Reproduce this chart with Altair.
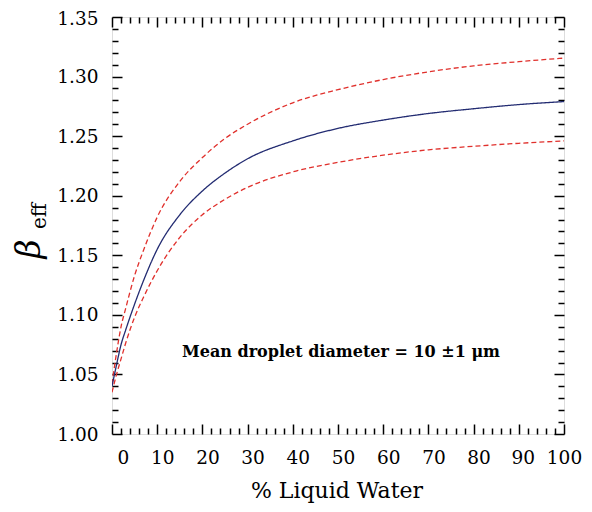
import altair as alt
import pandas as pd

# ---- data ----
x_vals = [0, 1, 2, 3, 5, 7, 10, 15, 20, 25, 30, 40, 50, 60, 70, 80, 90, 100]
center = [1.040, 1.058, 1.075, 1.087, 1.109, 1.129, 1.155, 1.184, 1.204, 1.219,
          1.231, 1.246, 1.2565, 1.2635, 1.269, 1.273, 1.2765, 1.279]
upper = [1.042, 1.068, 1.090, 1.105, 1.133, 1.1545, 1.182, 1.212, 1.232, 1.248,
         1.260, 1.278, 1.289, 1.2975, 1.304, 1.309, 1.3125, 1.3155]
lower = [1.035, 1.050, 1.063, 1.076, 1.098, 1.115, 1.137, 1.165, 1.184, 1.197,
         1.207, 1.220, 1.228, 1.234, 1.2385, 1.2415, 1.244, 1.246]

x_major_ticks = list(range(0, 101, 10))
x_minor_ticks = [v for v in range(0, 101, 2) if v % 10 != 0]
y_major_ticks = [round(1.00 + 0.05 * i, 2) for i in range(8)]
y_minor_ticks = [round(1.00 + 0.01 * i, 2) for i in range(36) if i % 5 != 0]

annotation = "Mean droplet diameter = 10 \u00b11 \u03bcm"
x_title = "% Liquid Water"

rows = []
for name, ys in (("upper", upper), ("center", center), ("lower", lower)):
    for xv, yv in zip(x_vals, ys):
        rows.append({"x": xv, "y": yv, "series": name})
df = pd.DataFrame(rows)

FONT = "DejaVu Serif"
NAVY = "#232c72"
RED = "#e0302c"

xs = alt.Scale(domain=[0, 100], nice=False, zero=False)
ys = alt.Scale(domain=[1.0, 1.35], nice=False, zero=False)


def make_axis(orient, values, size, labels=False, **extra):
    kw = dict(
        orient=orient, values=values, offset=-size, domain=False, grid=False,
        tickSize=size, tickWidth=1.5, tickColor="black",
        labels=labels, title=None,
    )
    if labels:
        kw.update(
            labelFont=FONT, labelFontSize=18.5, labelColor="black",
            labelOverlap=False, labelFlush=False, labelBound=False,
        )
    kw.update(extra)
    return alt.Axis(**kw)


ax_bottom = make_axis("bottom", x_major_ticks, 10, True, format="d", labelPadding=14,
                      labelOffset={"condition": [{"test": "datum.value === 0", "value": 11},
                                                 {"test": "datum.value === 100", "value": 0},
                                                 {"test": "datum.value === 90", "value": 4}],
                                   "value": 5})
ax_left = make_axis("left", y_major_ticks, 10, True, format=".2f", labelPadding=14,
                    labelOffset={"condition": {"test": "datum.value > 1.34", "value": 1},
                                 "value": 0})
ax_top = make_axis("top", x_major_ticks, 10)
ax_right = make_axis("right", y_major_ticks, 10)
ax_bottom_m = make_axis("bottom", x_minor_ticks, 6)
ax_left_m = make_axis("left", y_minor_ticks, 6)
ax_top_m = make_axis("top", x_minor_ticks, 6)
ax_right_m = make_axis("right", y_minor_ticks, 6)

lines = alt.Chart(df).mark_line(strokeWidth=1.3, clip=True, interpolate="monotone").encode(
    x=alt.X("x:Q", scale=xs, axis=ax_bottom),
    y=alt.Y("y:Q", scale=ys, axis=ax_left),
    color=alt.Color("series:N", scale=alt.Scale(domain=["upper", "center", "lower"],
                                                range=[RED, NAVY, RED]), legend=None),
    strokeDash=alt.StrokeDash("series:N", scale=alt.Scale(
        domain=["upper", "center", "lower"], range=[[5, 3], [1, 0], [5, 3]]), legend=None),
    detail="series:N",
)


def ghost(ax_x, ax_y):
    return alt.Chart(df).mark_point(opacity=0).encode(
        x=alt.X("x:Q", scale=xs, axis=ax_x),
        y=alt.Y("y:Q", scale=ys, axis=ax_y),
    )


g1 = ghost(ax_top, ax_right)
g2 = ghost(ax_bottom_m, ax_left_m)
g3 = ghost(ax_top_m, ax_right_m)

txt_df = pd.DataFrame({"a": [annotation], "t": [x_title], "b": ["\u03b2"], "e": ["eff"]})

ann = alt.Chart(txt_df).mark_text(font=FONT, fontSize=16, fontWeight="bold",
                                  align="center", baseline="middle", color="black").encode(
    x=alt.value(229), y=alt.value(335), text="a:N")
xt = alt.Chart(txt_df).mark_text(font=FONT, fontSize=22, align="center",
                                 baseline="middle", color="black").encode(
    x=alt.value(225), y=alt.value(474), text="t:N")
beta = alt.Chart(txt_df).mark_text(font=FONT, fontSize=33, fontStyle="italic", angle=270,
                                   align="center", baseline="middle", color="black").encode(
    x=alt.value(-82), y=alt.value(232), text="b:N")
eff = alt.Chart(txt_df).mark_text(font=FONT, fontSize=20, angle=270,
                                  align="center", baseline="middle", color="black").encode(
    x=alt.value(-72), y=alt.value(199), text="e:N")

chart = alt.layer(lines, g1, g2, g3, ann, xt, beta, eff).resolve_axis(
    x="independent", y="independent"
).properties(
    width=452, height=417,
    autosize=alt.AutoSizeParams(type="none"),
    padding={"left": 104, "top": 9, "right": 20, "bottom": 70},
).configure_view(stroke="black", strokeWidth=2).configure(background="white")

chart.save("out.html", embed_options={"renderer": "svg", "actions": False})
